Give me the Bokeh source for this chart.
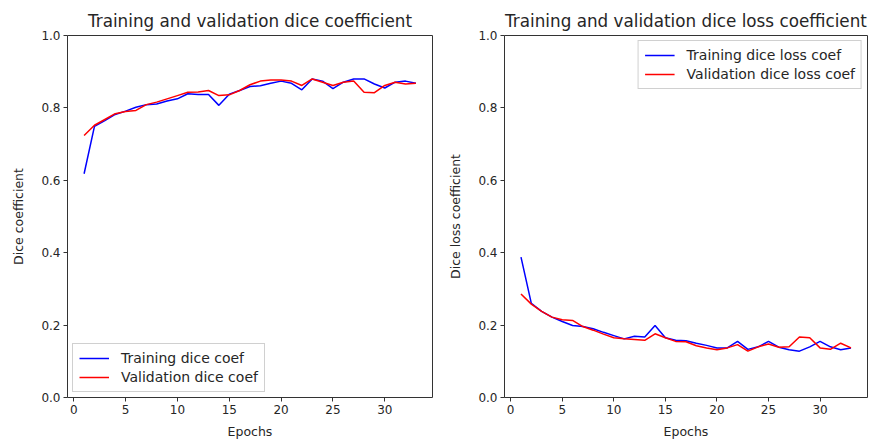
from bokeh.plotting import figure
from bokeh.layouts import row
from bokeh.models import Range1d, FixedTicker, Legend, LegendItem, NumeralTickFormatter
from bokeh.embed import file_html
from bokeh.resources import INLINE

epochs = list(range(1, 34))

train_dice = [0.618, 0.749, 0.765, 0.782, 0.791, 0.802, 0.809, 0.811, 0.819, 0.825,
              0.839, 0.837, 0.837, 0.807, 0.838, 0.848, 0.859, 0.861, 0.868, 0.874,
              0.868, 0.850, 0.880, 0.874, 0.853, 0.871, 0.880, 0.880, 0.866, 0.855,
              0.871, 0.874, 0.868]
val_dice = [0.724, 0.752, 0.768, 0.784, 0.790, 0.793, 0.809, 0.816, 0.825, 0.834,
            0.843, 0.844, 0.848, 0.834, 0.836, 0.848, 0.864, 0.874, 0.877, 0.877,
            0.874, 0.862, 0.880, 0.871, 0.862, 0.871, 0.874, 0.843, 0.842, 0.862,
            0.871, 0.866, 0.868]

train_loss = [0.388, 0.260, 0.238, 0.222, 0.210, 0.199, 0.196, 0.190, 0.180, 0.171,
              0.162, 0.169, 0.167, 0.199, 0.165, 0.158, 0.157, 0.150, 0.144, 0.137,
              0.137, 0.155, 0.133, 0.140, 0.155, 0.139, 0.132, 0.128, 0.140, 0.155,
              0.140, 0.132, 0.137]
val_loss = [0.286, 0.258, 0.238, 0.222, 0.215, 0.213, 0.196, 0.186, 0.175, 0.165,
            0.162, 0.160, 0.158, 0.176, 0.165, 0.155, 0.154, 0.143, 0.137, 0.132,
            0.137, 0.146, 0.128, 0.140, 0.148, 0.139, 0.140, 0.167, 0.165, 0.137,
            0.133, 0.150, 0.137]

x_ticks = [0, 5, 10, 15, 20, 25, 30]
y_ticks = [0.0, 0.2, 0.4, 0.6, 0.8, 1.0]

FONT = "DejaVu Sans"
TXT = "#262626"


def make_fig(title, ylabel, train, val, train_label, val_label, loc,
             width, border_left, border_right):
    p = figure(width=width, height=441, output_backend="svg", toolbar_location=None,
               x_range=Range1d(-0.6, 34.6), y_range=Range1d(0, 1),
               min_border_left=border_left, min_border_right=border_right,
               min_border_top=35, min_border_bottom=44)
    p.title.text = title
    p.title.align = "center"
    p.title.text_font = FONT
    p.title.text_font_size = "16.8px"
    p.title.text_font_style = "normal"
    p.title.text_color = TXT
    p.title.standoff = 9

    p.xgrid.visible = False
    p.ygrid.visible = False
    p.outline_line_color = "#333333"
    p.outline_line_width = 1
    p.background_fill_color = "white"
    p.border_fill_color = "white"

    for ax in (p.xaxis[0], p.yaxis[0]):
        ax.axis_line_color = None
        ax.major_tick_line_color = "#333333"
        ax.major_tick_out = 4
        ax.major_tick_in = 0
        ax.minor_tick_line_color = None
        ax.major_label_text_font = FONT
        ax.major_label_text_font_size = "12px"
        ax.major_label_text_color = TXT
        ax.major_label_standoff = 3
        ax.axis_label_text_font = FONT
        ax.axis_label_text_font_size = "12.5px"
        ax.axis_label_text_font_style = "normal"
        ax.axis_label_text_color = TXT

    p.xaxis[0].ticker = FixedTicker(ticks=x_ticks)
    p.yaxis[0].ticker = FixedTicker(ticks=y_ticks)
    p.yaxis[0].formatter = NumeralTickFormatter(format="0.0")
    p.xaxis[0].axis_label = "Epochs"
    p.xaxis[0].axis_label_standoff = 7
    p.yaxis[0].axis_label = ylabel
    p.yaxis[0].axis_label_standoff = 12

    r1 = p.line(epochs, train, line_color="#0000ff", line_width=1.5)
    r2 = p.line(epochs, val, line_color="#ff0000", line_width=1.5)

    legend = Legend(items=[LegendItem(label=train_label, renderers=[r1]),
                           LegendItem(label=val_label, renderers=[r2])],
                    location=loc)
    legend.label_text_font = FONT
    legend.label_text_font_size = "14px"
    legend.label_text_color = TXT
    legend.glyph_width = 30
    legend.glyph_height = 16
    legend.label_height = 16
    legend.label_standoff = 12
    legend.spacing = 3
    legend.padding = 6
    legend.margin = 5
    legend.border_line_color = "#d0d0d0"
    legend.border_line_alpha = 1
    legend.background_fill_alpha = 0.85
    p.add_layout(legend)
    return p


p1 = make_fig("Training and validation dice coefficient", "Dice coefficient",
              train_dice, val_dice, "Training dice coef", "Validation dice coef",
              "bottom_left", 438, 67, 6)
p2 = make_fig("Training and validation dice loss coefficient", "Dice loss coefficient",
              train_loss, val_loss, "Training dice loss coef", "Validation dice loss coef",
              "top_right", 433, 66, 4)

layout = row(p1, p2)

open("out.html", "w").write(file_html(layout, INLINE))
